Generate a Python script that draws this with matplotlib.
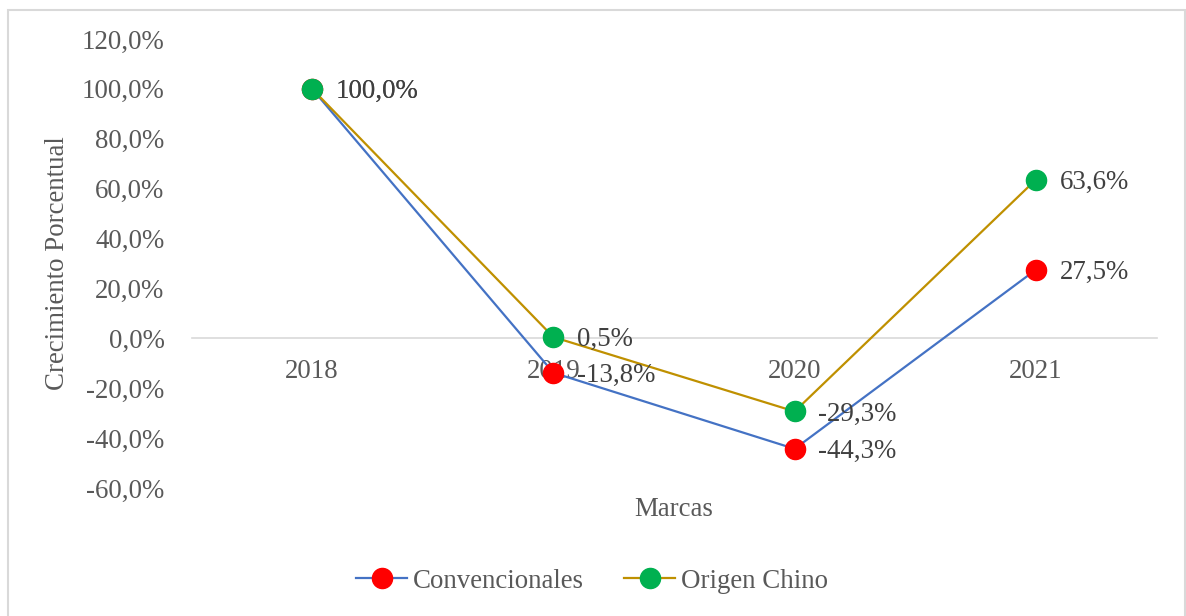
import matplotlib.pyplot as plt
from matplotlib.patches import Rectangle
from matplotlib.lines import Line2D

years = ["2018", "2019", "2020", "2021"]
convencionales = [100.0, -13.8, -44.3, 27.5]
origen_chino = [100.0, 0.5, -29.3, 63.6]
y_ticks = [-60, -40, -20, 0, 20, 40, 60, 80, 100, 120]

BLUE = "#4472C4"
GOLD = "#BF9000"
RED = "#FF0000"
GREEN = "#00B050"
GRAY = "#595959"
DARK = "#404040"
FS = 19.4

plt.rcParams["font.family"] = ["Liberation Serif", "DejaVu Serif"]

W, H = 1186, 616
fig = plt.figure(figsize=(W / 100, H / 100), dpi=100)
ax = fig.add_axes([191.5 / W, 1 - 488 / H, (1156.5 - 191.5) / W, (488 - 39) / H])

# chart border (Excel style)
fig.patches.append(Rectangle((8 / W, -0.1), (1185 - 8) / W, 1 - 9.5 / H + 0.1,
                             transform=fig.transFigure, fill=False,
                             edgecolor="#D9D9D9", lw=1.5))

# horizontal axis sits on zero; set before ticks since it resets them
for s in ("top", "right", "left"):
    ax.spines[s].set_visible(False)
ax.spines["bottom"].set_position(("data", 0))
ax.spines["bottom"].set_color("#D9D9D9")
ax.spines["bottom"].set_linewidth(1.2)
ax.spines["bottom"].set_zorder(1)

x = list(range(len(years)))
ax.plot(x, convencionales, color=BLUE, lw=1.6, marker="o", ms=14.5,
        mfc=RED, mec=RED, zorder=3, label="Convencionales")
ax.plot(x, origen_chino, color=GOLD, lw=1.6, marker="o", ms=14.5,
        mfc=GREEN, mec=GREEN, zorder=3, label="Origen Chino")

for series in (convencionales, origen_chino):
    for xi, v in zip(x, series):
        ax.annotate(f"{v:.1f}%".replace(".", ","), (xi, v), xytext=(17, -2),
                    textcoords="offset points", ha="left", va="center",
                    fontsize=FS, color=DARK, zorder=4)

ax.set_xlim(-0.5, len(years) - 0.5)
ax.set_ylim(-60, 120)
ax.set_yticks(y_ticks)
ax.set_yticklabels([f"{t:.1f}%".replace(".", ",") for t in y_ticks],
                   fontsize=FS, color=GRAY)
ax.set_xticks(x)
ax.set_xticklabels(years, fontsize=FS, color=GRAY)
ax.tick_params(axis="y", length=0, pad=19.5)
ax.tick_params(axis="x", length=0, pad=15)

fig.text(58 / W, 1 - 263 / H, "Crecimiento Porcentual", rotation=90,
         ha="center", va="center", fontsize=FS, color=GRAY)
fig.text(674 / W, 1 - 510 / H, "Marcas", ha="center", va="center",
         fontsize=FS, color=GRAY)

handles = [
    Line2D([], [], color=BLUE, lw=1.6, marker="o", ms=14.5, mfc=RED, mec=RED),
    Line2D([], [], color=GOLD, lw=1.6, marker="o", ms=14.5, mfc=GREEN, mec=GREEN),
]
leg = fig.legend(handles, ["Convencionales", "Origen Chino"], loc="center",
                 bbox_to_anchor=(592 / W, 1 - 581 / H), ncol=2, frameon=False,
                 fontsize=FS, handlelength=1.9, handletextpad=0.2,
                 columnspacing=1.5)
for t in leg.get_texts():
    t.set_color(GRAY)

fig.savefig("out.png", dpi=100)
